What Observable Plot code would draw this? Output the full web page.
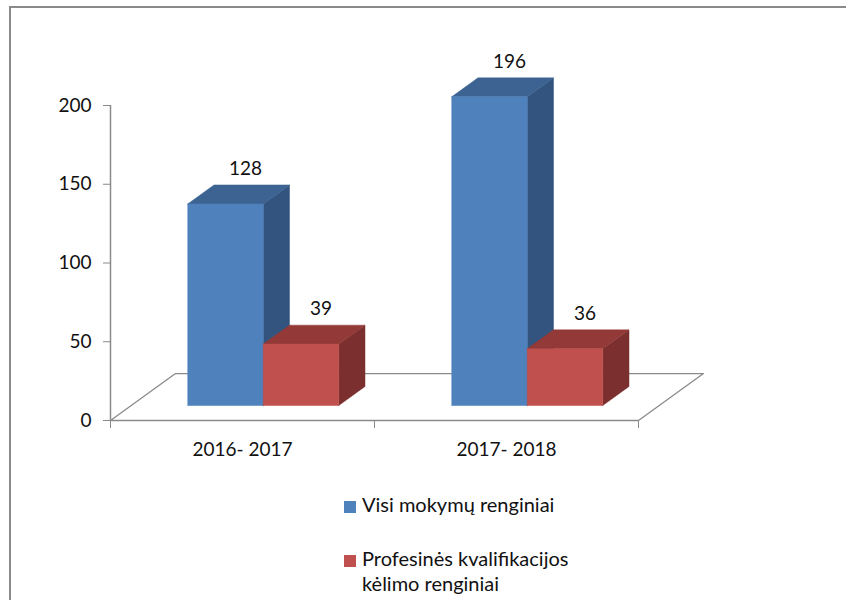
<!DOCTYPE html>
<html>
<head>
<meta charset="utf-8">
<script src="https://cdn.jsdelivr.net/npm/d3@7"></script>
<script src="https://cdn.jsdelivr.net/npm/@observablehq/plot@0.6"></script>
<style>
  html, body { margin: 0; padding: 0; background: #fff; overflow: hidden; }
  body { position: relative; width: 846px; height: 600px; font-family: Lato, "Open Sans", sans-serif; }
  #frame { position: absolute; left: 9px; top: 6px; width: 1000px; height: 800px; border-left: 2px solid #8a8a8a; border-top: 2px solid #8a8a8a; }
  #chart { position: absolute; left: 0; top: 0; }
  #legend { position: absolute; left: 344px; top: 492px; font-size: 20px; color: #111; line-height: 25px; }
  .item { display: flex; align-items: flex-start; margin-bottom: 29px; }
  .sw { width: 12px; height: 12px; margin-top: 9px; margin-right: 6px; flex: none; }
  .lbl { max-width: 240px; }
</style>
</head>
<body>
<div id="frame"></div>
<div id="chart"></div>
<div id="legend"></div>
<script>
// ---- data ----
const categories = ["2016- 2017", "2017- 2018"];
const seriesNames = ["Visi mokymų renginiai", "Profesinės kvalifikacijos kėlimo renginiai"];
const visiRenginiai = [128, 196];
const profesinesRenginiai = [39, 36];
const yTicks = [0, 50, 100, 150, 200];

// ---- styles ----
const seriesColors = [
  {front: "#4f81bd", top: "#3c6391", side: "#32547e"},
  {front: "#c0504d", top: "#933a38", side: "#7b2f2e"}
];
const axisGray = "#8a8a8a";
const FONT = "Lato, 'Open Sans', sans-serif";
// 3D projection (in data units): floor depth offset
const DEPTH_X = 0.2462, DEPTH_Y = 29.8;
const T_FRONT = 0.319, T_BACK = 0.723;
const BAR_W = 0.286;

const seriesValues = [visiRenginiai, profesinesRenginiai];
const ox = T_FRONT * DEPTH_X, oy = T_FRONT * DEPTH_Y;
const ddx = (T_BACK - T_FRONT) * DEPTH_X, ddy = (T_BACK - T_FRONT) * DEPTH_Y;

const faces = {front: [], top: [], side: []};
const labels = [];
seriesValues.forEach((vals, s) => {
  vals.forEach((v, i) => {
    const x0 = i + 0.5 - BAR_W + s * BAR_W + ox;
    const x1 = x0 + BAR_W;
    const id = s + "-" + i;
    const pts = {
      front: [[x0, oy], [x1, oy], [x1, oy + v], [x0, oy + v], [x0, oy]],
      top: [[x0, oy + v], [x1, oy + v], [x1 + ddx, oy + v + ddy], [x0 + ddx, oy + v + ddy], [x0, oy + v]],
      side: [[x1, oy], [x1 + ddx, oy + ddy], [x1 + ddx, oy + v + ddy], [x1, oy + v], [x1, oy]]
    };
    for (const f of ["front", "top", "side"]) {
      pts[f].forEach(([x, y]) => faces[f].push({s, id, x, y}));
    }
    labels.push({x: (x0 + x1) / 2 + ddx / 2, y: oy + v + ddy, text: String(v)});
  });
});

const floor = [[0, 0], [DEPTH_X, DEPTH_Y], [2 + DEPTH_X, DEPTH_Y], [2, 0], [0, 0]].map(([x, y]) => ({x, y}));

const marks = [
  Plot.line(floor, {x: "x", y: "y", stroke: axisGray, strokeWidth: 1.3}),
  Plot.ruleX([0], {y1: 0, y2: 200, stroke: axisGray, strokeWidth: 1.5}),
  Plot.axisY(yTicks, {label: null, tickSize: 7, tickPadding: 12, stroke: axisGray, fill: "#111", fontSize: 19, fontFamily: FONT}),
  Plot.axisX([0, 1, 2], {label: null, tickSize: 8, tickFormat: () => "", stroke: axisGray}),
  Plot.axisX([0.5, 1.5], {label: null, tickSize: 0, tickPadding: 22, tickFormat: d => categories[Math.floor(d)], fill: "#111", fontSize: 19, fontFamily: FONT})
];
seriesColors.forEach((c, s) => {
  for (const f of ["side", "top", "front"]) {
    marks.push(Plot.line(faces[f].filter(d => d.s === s), {x: "x", y: "y", z: "id", fill: c[f], stroke: c[f], strokeWidth: 0.5}));
  }
});
marks.push(Plot.text(labels, {x: "x", y: "y", text: "text", dy: -16, dx: 7, fontSize: 19, fontFamily: FONT, fill: "#111"}));

const chart = Plot.plot({
  width: 846,
  height: 480,
  marginTop: 105,
  marginBottom: 60,
  marginLeft: 110,
  marginRight: 208,
  x: {type: "linear", domain: [0, 2], axis: null},
  y: {type: "linear", domain: [0, 200], axis: null},
  style: {background: "transparent", overflow: "visible"},
  marks
});
document.getElementById("chart").appendChild(chart);

const legend = document.getElementById("legend");
seriesNames.forEach((name, s) => {
  const item = document.createElement("div");
  item.className = "item";
  const sw = document.createElement("div");
  sw.className = "sw";
  sw.style.background = seriesColors[s].front;
  const lbl = document.createElement("div");
  lbl.className = "lbl";
  lbl.textContent = name;
  item.appendChild(sw);
  item.appendChild(lbl);
  legend.appendChild(item);
});
</script>
</body>
</html>
